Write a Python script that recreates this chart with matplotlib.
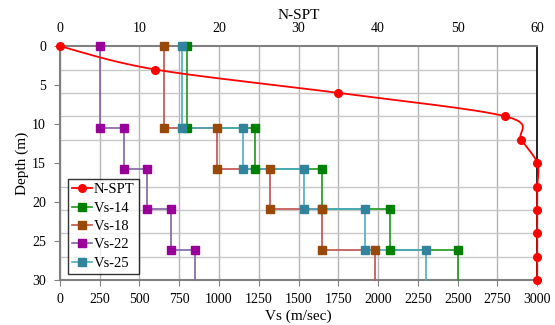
import numpy as np
import matplotlib
matplotlib.use("Agg")
import matplotlib.pyplot as plt
from matplotlib.lines import Line2D

plt.rcParams['font.family'] = ['Liberation Serif', 'DejaVu Serif']

# N-SPT (top axis) vs depth
spt_depth = [0, 3, 6, 9, 12, 15, 18, 21, 24, 27, 30]
spt_n = [0, 12, 35, 56, 58, 60, 60, 60, 60, 60, 60]

# Vs profiles: layer tops (m) and velocities (m/sec)
layer_tops = [0, 10.5, 15.7, 20.9, 26.1]
max_depth = 30
vs14 = [800, 1225, 1650, 2075, 2500]
vs18 = [655, 990, 1320, 1650, 1980]
vs22 = [250, 400, 550, 700, 850]
vs25 = [770, 1150, 1535, 1920, 2300]

series = [
    ("Vs-14", vs14, '#008000', '#1a9a1a'),
    ("Vs-18", vs18, '#984807', '#c0504d'),
    ("Vs-22", vs22, '#990099', '#8064a2'),
    ("Vs-25", vs25, '#31849b', '#4bacc6'),
]


def step_path(vals):
    xs, ys = [], []
    for i, v in enumerate(vals):
        top = layer_tops[i]
        bot = layer_tops[i + 1] if i + 1 < len(layer_tops) else max_depth
        xs += [v, v]
        ys += [top, bot]
    return xs, ys


def catmull(px, py, n=30):
    # smooth curve through points (like Excel's smoothed line)
    p = np.column_stack([px, py]).astype(float)
    p = np.vstack([p[0], p, p[-1]])
    out = []
    for i in range(1, len(p) - 2):
        p0, p1, p2, p3 = p[i - 1], p[i], p[i + 1], p[i + 2]
        t = np.linspace(0, 1, n)[:, None]
        seg = 0.5 * ((2 * p1) + (-p0 + p2) * t + (2 * p0 - 5 * p1 + 4 * p2 - p3) * t ** 2
                     + (-p0 + 3 * p1 - 3 * p2 + p3) * t ** 3)
        out.append(seg)
    out = np.vstack(out)
    return out[:, 0], out[:, 1]


fig = plt.figure(figsize=(5.55, 3.25), dpi=100)
ax = fig.add_axes([0.108, 0.138, 0.860, 0.720])

for name, vals, mcol, lcol in series:
    xs, ys = step_path(vals)
    ax.plot(xs, ys, color=lcol, lw=1.2, zorder=3, clip_on=False)
    ax.plot(xs[:-1], ys[:-1], ls='none', marker='s', ms=5.8, color=mcol, zorder=4,
            clip_on=False)

ax.set_xlim(0, 3000)
ax.set_ylim(30, 0)
ax.set_xticks(np.arange(0, 3001, 250))
ax.set_yticks(np.arange(0, 31, 5))
ax.set_yticks(np.arange(0, 31, 3), minor=True)
ax.grid(True, axis='x', which='major', color='#b4b4b4', lw=1)
ax.grid(True, axis='y', which='minor', color='#c8c8c8', lw=1)
ax.tick_params(axis='y', which='minor', length=0)
ax.tick_params(axis='both', which='major', labelsize=10, direction='out', length=4,
               color='#808080')
ax.tick_params(axis='y', pad=6)
ax.tick_params(axis='x', pad=5)
ax.set_xlabel("Vs (m/sec)", fontsize=11, labelpad=3)
ax.set_ylabel("Depth (m)", fontsize=11, labelpad=2)
for s in ['left', 'bottom', 'top']:
    ax.spines[s].set_color('#808080')
    ax.spines[s].set_linewidth(1.5)
ax.spines['right'].set_color('black')
ax.spines['right'].set_linewidth(1.2)
ax.set_axisbelow(True)

ax2 = ax.twiny()
ax2.set_xlim(0, 60)
ax2.set_xticks(np.arange(0, 61, 10))
ax2.tick_params(axis='x', labelsize=10, length=0, pad=8)
sx, sy = catmull(np.array(spt_n) / 60 * 477, np.array(spt_depth) / 30 * 234)
ax2.plot(sx / 477 * 60, sy / 234 * 30, color='red', lw=1.3, zorder=5, clip_on=False)
ax2.plot(spt_n, spt_depth, ls='none', marker='o', ms=5.5, color='red', zorder=6,
         clip_on=False)
ax2.set_xlabel("N-SPT", fontsize=11, labelpad=2)
for s in ax2.spines.values():
    s.set_visible(False)

handles = [Line2D([], [], color='red', marker='o', ms=5.5, lw=1.3)]
for name, vals, mcol, lcol in series:
    handles.append(Line2D([], [], color=lcol, lw=1.2, marker='s', ms=5.8,
                          markerfacecolor=mcol, markeredgecolor=mcol))
labels = ["N-SPT"] + [s[0] for s in series]
leg = ax.legend(handles, labels, loc='lower left', bbox_to_anchor=(0.016, 0.026),
                fontsize=10.5, frameon=True, fancybox=False, edgecolor='black',
                handlelength=1.4, handletextpad=0.1, labelspacing=0.35,
                borderpad=0.3, borderaxespad=0)
leg.get_frame().set_linewidth(1.0)
leg.set_zorder(10)

fig.savefig("out.png", dpi=100)
